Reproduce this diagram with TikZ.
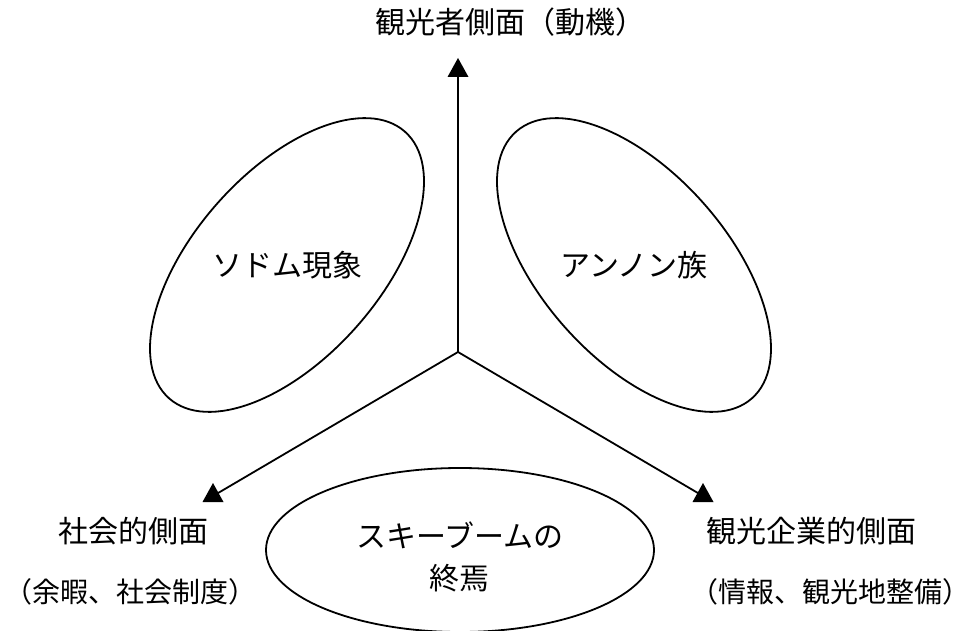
\documentclass[tikz,border=0pt]{standalone}
\usepackage{fontspec}
\setmainfont{Noto Sans CJK JP}
\usetikzlibrary{shapes.geometric}
\begin{document}
\begin{tikzpicture}[x=1pt,y=1pt,
  lbl/.style={font=\fontsize{30}{36}\selectfont, inner sep=0pt},
  sublbl/.style={font=\fontsize{28}{34}\selectfont, inner sep=0pt},
  axis/.style={line width=1.8pt},
  oval/.style={draw, ellipse, line width=1.8pt, inner sep=0pt, outer sep=0pt},
  tip/.style={fill=black}]
\useasboundingbox (0,0) rectangle (971,630);
\fill[white] (0,0) rectangle (971,630);
% centre and arrow tips
\coordinate (o) at (458,278);
\coordinate (ttop) at (458,559);
\coordinate (tleft) at (213,134);
\coordinate (tright) at (703,134);
\draw[axis] (o) -- (ttop);
\draw[axis] (o) -- (tleft);
\draw[axis] (o) -- (tright);
\foreach \t in {ttop,tleft,tright}
  \fill[tip] (\t) ++(0,13) -- ++(-10.5,-19) -- ++(21,0) -- cycle;
% ellipses
\node[oval, minimum width=356, minimum height=186, rotate=48.5] (eleft) at (287,365) {};
\node[oval, minimum width=356, minimum height=186, rotate=-48.5] (eright) at (634,365) {};
\node[oval, minimum width=388, minimum height=164] (ebottom) at (460,80) {};
% labels
\node[lbl] (ltop) at (510,608) {観光者側面（動機）};
\node[lbl] (lsoc) at (133,99) {社会的側面};
\node[sublbl] (lsoc2) at (130.5,38) {（余暇、社会制度）};
\node[lbl] (lind) at (811,99) {観光企業的側面};
\node[sublbl] (lind2) at (830.5,38) {（情報、観光地整備）};
\node[lbl] (lsod) at (eleft.center) {ソドム現象};
\node[lbl] (lann) at (eright.center) {アンノン族};
\node[lbl] (lski) at (460,95) {スキーブームの};
\node[lbl] (lend) at (459,52) {終焉};
\end{tikzpicture}
\end{document}
